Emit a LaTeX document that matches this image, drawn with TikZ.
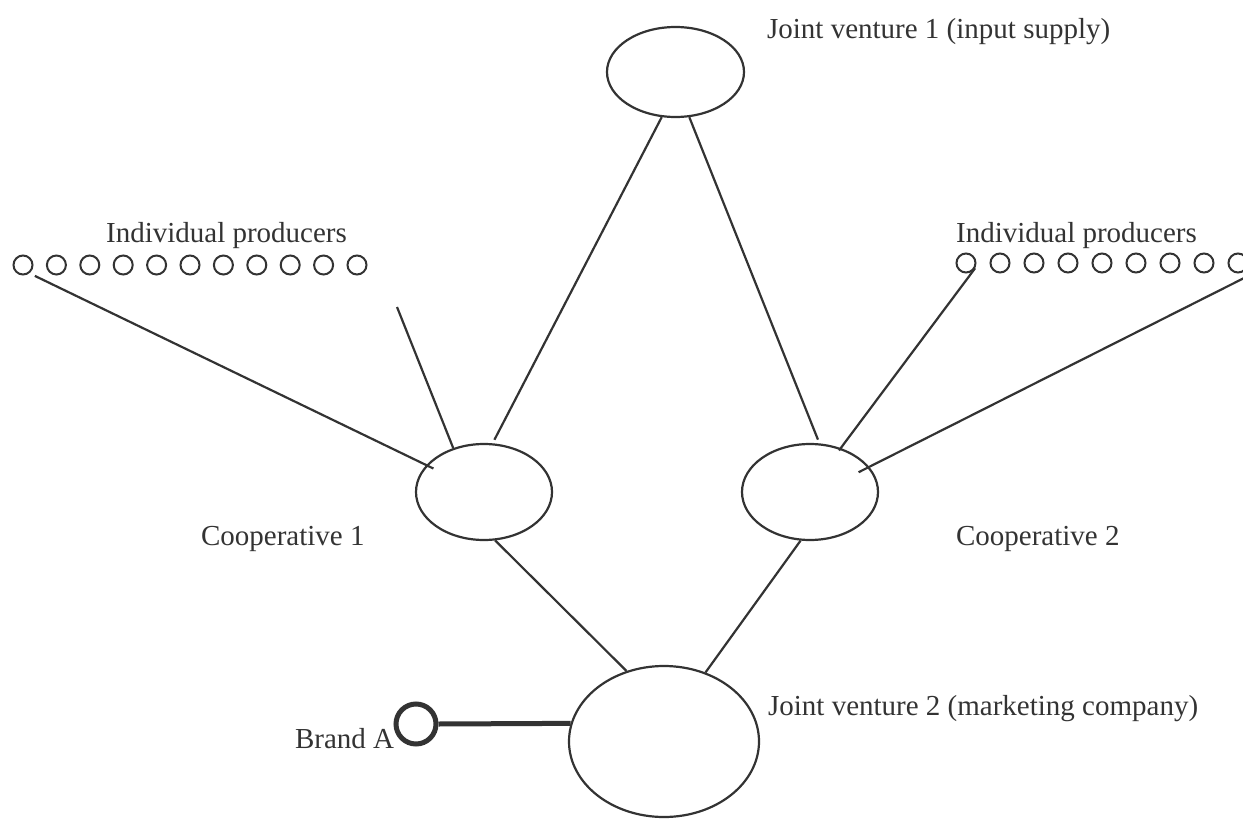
\documentclass[tikz,border=0pt]{standalone}
\usepackage{fontspec}
\setmainfont{Liberation Serif}
\usetikzlibrary{shapes,calc}
\definecolor{ink}{HTML}{333333}

\begin{document}
\begin{tikzpicture}[x=1pt,y=-1pt, line width=2.2pt, draw=ink,
    every node/.style={text=ink, font=\fontsize{29pt}{34pt}\selectfont},
    unit/.style={ellipse, draw=ink, inner sep=0pt, minimum width=136pt, minimum height=96pt},
    producer/.style={circle, draw=ink, line width=2pt, inner sep=0pt, minimum size=19pt},
    lbl/.style={anchor=base west, inner sep=0pt} ]
    \useasboundingbox (0,0) rectangle (1243,819);

    \node[unit, minimum width=137pt, minimum height=90pt] (inputjv) at (675.5,72) {};
    \node[unit] (coopleft) at (484,492) {};
    \node[unit] (coopright) at (810,492) {};
    \node[unit, minimum width=190pt, minimum height=151pt] (marketjv) at (664,741.5) {};
    \node[circle, draw=ink, line width=5pt, inner sep=0pt, minimum size=40pt] (brand) at (416,724) {};

    \foreach \i in {1,...,11}
        \node[producer] (prodleft\i) at ({23+33.4*(\i-1)},265) {};
    \foreach \i in {1,...,9}
        \node[producer] (prodright\i) at ({966+34*(\i-1)},263) {};

    \coordinate (freeleft) at (397,307);
    \coordinate (freeright) at (1260,270);

    \node[lbl] (inputlbl) at (766,38) {Joint venture 1 (input supply)};
    \node[lbl] (prodleftlbl) at (105,242) {Individual producers};
    \node[lbl] (prodrightlbl) at (955,242) {Individual producers};
    \node[lbl] (coopleftlbl) at (200,545) {Cooperative 1};
    \node[lbl] (cooprightlbl) at (955,545) {Cooperative 2};
    \node[lbl] (marketlbl) at (767,715) {Joint venture 2 (marketing company)};
    \node[lbl] (brandlbl) at (294,748) {Brand A};

    \draw[shorten >=4pt] (inputjv.-107) -- (coopleft.80);
    \draw[shorten >=4pt] (inputjv.-73) -- (coopright.79);
    \draw[shorten <=6pt, shorten >=-8pt] (prodleft1.-52) -- (coopleft.155);
    \draw (freeleft) -- (coopleft.125);
    \draw[shorten >=-3pt] (prodright1.-30) -- (coopright.55);
    \draw[shorten >=-12pt] (freeright) -- (coopright.23);
    \draw (coopleft.-77) -- (marketjv.118);
    \draw (coopright.-101) -- (marketjv.59);
    \draw[line width=5pt] (brand.east) -- (marketjv.169);

\end{tikzpicture}
\end{document}
